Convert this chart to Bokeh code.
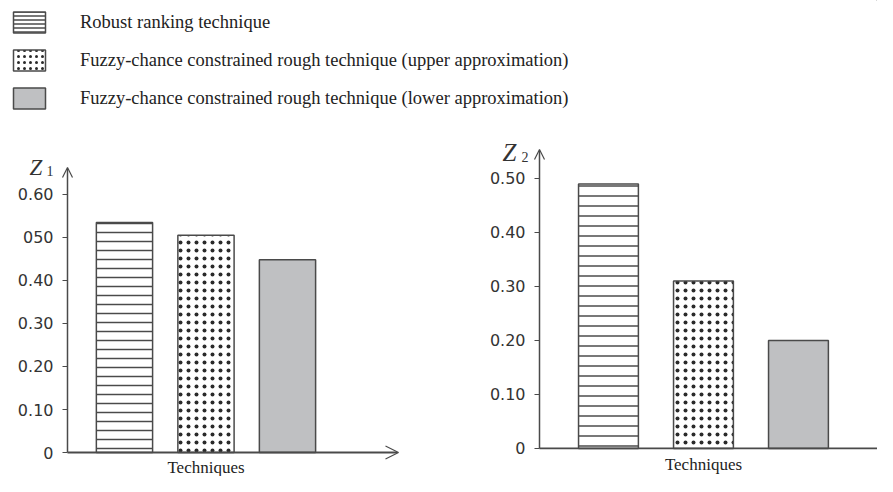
from bokeh.plotting import figure
from bokeh.models import (Range1d, FixedTicker, Arrow, OpenHead, Label, Legend,
                          LegendItem, ColumnDataSource)
from bokeh.layouts import column, row
from bokeh.embed import file_html
from bokeh.resources import INLINE

# ---------------- data ----------------
techniques = [
    "Robust ranking technique",
    "Fuzzy-chance constrained rough technique (upper approximation)",
    "Fuzzy-chance constrained rough technique (lower approximation)",
]
z1_values = [0.535, 0.505, 0.448]
z2_values = [0.49, 0.31, 0.20]
z1_ticks = [0, 0.1, 0.2, 0.3, 0.4, 0.5, 0.6]
z1_tick_labels = ["0", "0.10", "0.20", "0.30", "0.40", "050", "0.60"]
z2_ticks = [0, 0.1, 0.2, 0.3, 0.4, 0.5]
z2_tick_labels = ["0", "0.10", "0.20", "0.30", "0.40", "0.50"]
x_label = "Techniques"
z1_name, z1_sub = "Z", "1"
z2_name, z2_sub = "Z", "2"

# ---------------- styles ----------------
INK = "#4a4a4a"
SERIF = "Liberation Serif"
SANS = "DejaVu Sans"


def bar_style(i, line_scale, dot_scale):
    base = dict(line_color=INK, line_width=1.5)
    if i == 0:
        base.update(fill_color="white", hatch_pattern="horizontal_line",
                    hatch_color=INK, hatch_weight=1.5, hatch_scale=line_scale)
    elif i == 1:
        base.update(fill_color="white", hatch_pattern="dot",
                    hatch_color="#2a2a2a", hatch_weight=1.0, hatch_scale=dot_scale)
    else:
        base.update(fill_color="#bfc0c2")
    return base


def make_chart(values, ticks, tick_labels, name, sub, width, height,
               x_range, y_range, axis_x, x_tip, y_tip, bar_width,
               line_scale, dot_scale, x_head, name_off, sub_off, label_off,
               label_size, name_size):
    p = figure(width=width, height=height,
               x_range=Range1d(*x_range), y_range=Range1d(*y_range),
               output_backend="svg", toolbar_location=None,
               x_axis_location=None, y_axis_location="left", min_border=0)
    p.outline_line_color = None
    p.grid.visible = False

    xs = list(range(len(values)))
    for i, (x, v) in enumerate(zip(xs, values)):
        src = ColumnDataSource(dict(x=[x], top=[v]))
        p.vbar(x="x", top="top", bottom=0, width=bar_width, source=src,
               **bar_style(i, line_scale, dot_scale))

    ax = p.yaxis[0]
    ax.fixed_location = axis_x
    ax.ticker = FixedTicker(ticks=ticks)
    ax.major_label_overrides = {t: l for t, l in zip(ticks, tick_labels)}
    ax.axis_line_color = None
    ax.major_tick_out = 5
    ax.major_tick_in = 0
    ax.major_tick_line_color = INK
    ax.major_tick_line_width = 1.2
    ax.minor_tick_line_color = None
    ax.major_label_standoff = 9
    ax.major_label_text_font = SANS
    ax.major_label_text_font_size = "16px"
    ax.major_label_text_color = "#333333"

    # axis lines drawn as arrows
    p.add_layout(Arrow(end=OpenHead(size=10, line_color=INK, line_width=1.2),
                       x_start=axis_x, y_start=0, x_end=axis_x, y_end=y_tip,
                       line_color=INK, line_width=1.5))
    p.add_layout(Arrow(end=OpenHead(size=13, line_color=INK, line_width=1.2) if x_head else None,
                       x_start=axis_x, y_start=0, x_end=x_tip, y_end=0,
                       line_color=INK, line_width=1.8))

    p.add_layout(Label(x=axis_x, y=y_tip, x_offset=name_off[0], y_offset=name_off[1],
                       text=name, text_font=SERIF, text_font_style="italic",
                       text_font_size=name_size, text_color="#333333",
                       text_align="left", text_baseline="middle"))
    p.add_layout(Label(x=axis_x, y=y_tip, x_offset=sub_off[0], y_offset=sub_off[1],
                       text=sub, text_font=SERIF,
                       text_font_size="14px", text_color="#333333",
                       text_align="left", text_baseline="middle"))
    p.add_layout(Label(x=xs[len(xs) // 2], y=0, y_offset=label_off, text=x_label,
                       text_font=SERIF, text_font_size=label_size, text_color="#222222",
                       text_align="center", text_baseline="alphabetic"))
    return p


left = make_chart(z1_values, z1_ticks, z1_tick_labels, z1_name, z1_sub,
                  width=465, height=366,
                  x_range=(-1.521, 4.184), y_range=(-0.0558, 0.7953),
                  axis_x=-0.699, x_tip=3.362, y_tip=0.6628, bar_width=0.69,
                  line_scale=9, dot_scale=8, x_head=True,
                  name_off=(-38, 0), sub_off=(-21, -4), label_off=-15,
                  label_size="17px", name_size="23px")

right = make_chart(z2_values, z2_ticks, z2_tick_labels, z2_name, z2_sub,
                   width=412, height=366,
                   x_range=(-1.505, 2.832), y_range=(-0.0519, 0.6259),
                   axis_x=-0.726, x_tip=2.832, y_tip=0.5537, bar_width=0.63,
                   line_scale=10, dot_scale=8, x_head=False,
                   name_off=(-37, -3), sub_off=(-18, -8), label_off=-16,
                   label_size="17px", name_size="25px")

# ---------------- legend ----------------
leg = figure(width=877, height=110, output_backend="svg", toolbar_location=None,
             x_axis_location=None, y_axis_location=None,
             min_border=0, x_range=Range1d(0, 1), y_range=Range1d(0, 1))
leg.outline_line_color = None
leg.grid.visible = False
items = []
for i, name in enumerate(techniques):
    st = bar_style(i, 4, 6)
    r = leg.vbar(x=[5], top=[5], bottom=[4], width=0.1, **st)
    items.append(LegendItem(label=name, renderers=[r]))
legend = Legend(items=items, location="top_left", margin=9, padding=0,
                glyph_width=40, glyph_height=26, spacing=12, label_standoff=31,
                label_text_font=SERIF, label_text_font_size="18.5px",
                label_text_color="#222222", border_line_color=None,
                background_fill_alpha=0)
leg.add_layout(legend)

page = column(leg, row(left, right))
open("out.html", "w").write(file_html(page, INLINE))
